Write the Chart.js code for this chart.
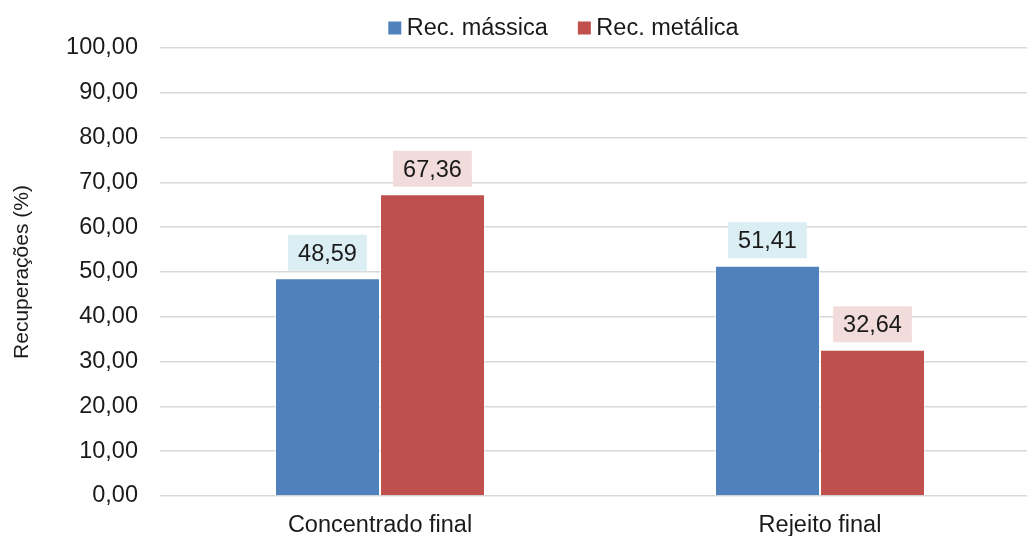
<!DOCTYPE html>
<html lang="pt">
<head>
<meta charset="utf-8">
<title>Recuperações</title>
<script src="https://cdn.jsdelivr.net/npm/chart.js@4/dist/chart.umd.min.js"></script>
<style>
  html, body { margin: 0; padding: 0; background: #ffffff; overflow: hidden; }
  #wrap { width: 1027px; height: 536px; overflow: hidden; }
  canvas { display: block; }
</style>
</head>
<body>
<div id="wrap"><canvas id="chart" width="1040" height="536"></canvas></div>
<script>
// Categorias e séries
const categorias = ['Concentrado final', 'Rejeito final'];
const recMassica = [48.59, 51.41];
const recMetalica = [67.36, 32.64];
const nomesSeries = ['Rec. mássica', 'Rec. metálica'];
const eixoY = { min: 0, max: 100, passo: 10, titulo: 'Recuperações (%)' };

const FONTE = '"Liberation Sans", Arial, Helvetica, sans-serif';
const TAM = 23.5;
const COR_TEXTO = '#1a1a1a';
const AZUL = '#4F81BD';
const VERMELHO = '#C0504D';
const FUNDO_ROTULO = ['#DBEEF4', '#F2DCDB'];

const fmt = v => v.toFixed(2).replace('.', ',');

// Rótulos de valor em caixas acima de cada barra
const rotulosValor = {
  id: 'rotulosValor',
  afterDatasetsDraw(chart) {
    const ctx = chart.ctx;
    ctx.save();
    ctx.font = TAM + 'px ' + FONTE;
    ctx.textAlign = 'center';
    ctx.textBaseline = 'middle';
    chart.data.datasets.forEach((ds, di) => {
      const meta = chart.getDatasetMeta(di);
      meta.data.forEach((bar, i) => {
        const txt = fmt(ds.data[i]);
        const w = ctx.measureText(txt).width + 20;
        const h = 36;
        const base = bar.y - 7.5;
        ctx.fillStyle = FUNDO_ROTULO[di];
        ctx.fillRect(bar.x - w / 2, base - h, w, h);
        ctx.fillStyle = COR_TEXTO;
        ctx.fillText(txt, bar.x, base - h / 2 + 1.5);
      });
    });
    ctx.restore();
  }
};

// Legenda no topo
const legendaTopo = {
  id: 'legendaTopo',
  afterDraw(chart) {
    const ctx = chart.ctx;
    ctx.save();
    ctx.font = TAM + 'px ' + FONTE;
    ctx.textBaseline = 'middle';
    ctx.textAlign = 'left';
    const caixa = 13, espaco = 5.5, entre = 30, centroX = 563.5, y = 28;
    const itens = chart.data.datasets.map(ds => ({ txt: ds.label, cor: ds.backgroundColor }));
    const larguras = itens.map(it => caixa + espaco + ctx.measureText(it.txt).width);
    const total = larguras.reduce((a, b) => a + b, 0) + entre * (itens.length - 1);
    let x = centroX - total / 2;
    itens.forEach((it, k) => {
      ctx.fillStyle = it.cor;
      ctx.fillRect(x, y - caixa / 2, caixa, caixa);
      ctx.fillStyle = COR_TEXTO;
      ctx.fillText(it.txt, x + caixa + espaco, y + 1);
      x += larguras[k] + entre;
    });
    ctx.restore();
  }
};

new Chart(document.getElementById('chart'), {
  type: 'bar',
  data: {
    labels: categorias,
    datasets: [
      { label: nomesSeries[0], data: recMassica, backgroundColor: AZUL,
        borderColor: 'rgba(255,255,255,0.45)', borderWidth: 1 },
      { label: nomesSeries[1], data: recMetalica, backgroundColor: VERMELHO,
        borderColor: 'rgba(255,255,255,0.45)', borderWidth: 1 }
    ]
  },
  options: {
    responsive: false,
    animation: false,
    events: [],
    layout: { padding: { top: 48, left: 0, right: 0, bottom: 0 } },
    datasets: { bar: { categoryPercentage: 210 / 440, barPercentage: 1 } },
    plugins: {
      legend: { display: false },
      tooltip: { enabled: false }
    },
    scales: {
      x: {
        grid: { display: false, drawTicks: false },
        border: { display: false },
        ticks: { color: COR_TEXTO, font: { family: FONTE, size: TAM }, padding: 15, maxRotation: 0 },
        afterFit(scale) { scale.height = 40; }
      },
      y: {
        min: eixoY.min, max: eixoY.max,
        grid: { color: '#D9D9D9', lineWidth: 1.5, drawTicks: false },
        border: { display: false },
        ticks: {
          stepSize: eixoY.passo, padding: 22, color: COR_TEXTO,
          font: { family: FONTE, size: TAM },
          callback: v => fmt(v)
        },
        title: {
          display: true, text: eixoY.titulo, color: COR_TEXTO,
          font: { family: FONTE, size: 21 }, padding: { top: 10, bottom: 0 }
        },
        afterFit(scale) { scale.width = 160; }
      }
    }
  },
  plugins: [rotulosValor, legendaTopo]
});
</script>
</body>
</html>
